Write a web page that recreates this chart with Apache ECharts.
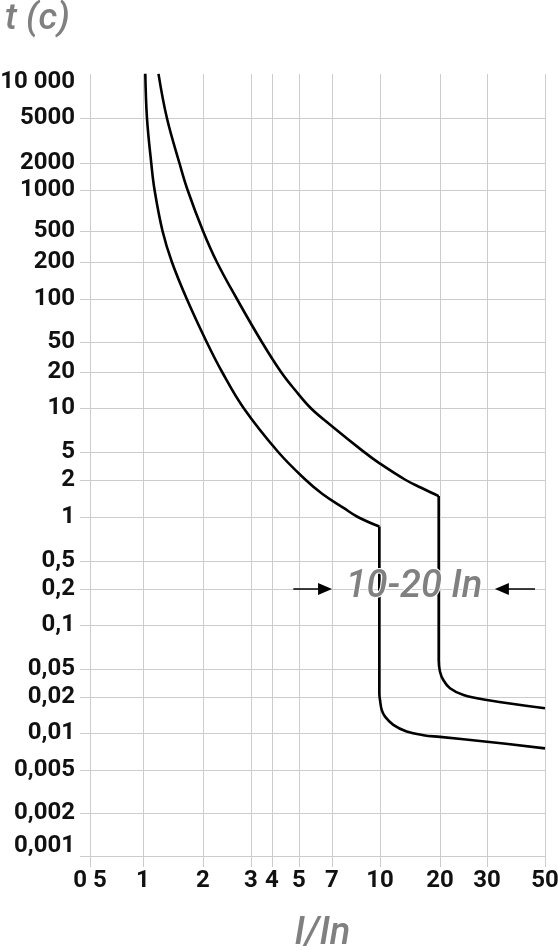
<!DOCTYPE html>
<html><head><meta charset="utf-8">
<script src="https://cdn.jsdelivr.net/npm/echarts@6/dist/echarts.min.js"></script>
<style>html,body{margin:0;padding:0;background:#fff}#c{width:558px;height:951px}</style>
</head><body><div id="c"></div>
<script>
// ---- scale: tick values and their place on the chart's hand-ruled log paper ----
const xTicks = [0.5, 1, 2, 3, 4, 5, 7, 10, 20, 30, 50];
const xTickLabels = ['0 5', '1', '2', '3', '4', '5', '7', '10', '20', '30', '50'];
const xTickPos = [0, 53, 113, 161, 182, 209, 242, 290, 350, 397, 455];

const yTicks = [0.001, 0.002, 0.005, 0.01, 0.02, 0.05, 0.1, 0.2, 0.5, 1, 2, 5, 10, 20, 50, 100, 200, 500, 1000, 2000, 5000, 10000];
const yTickLabels = ['0,001', '0,002', '0,005', '0,01', '0,02', '0,05', '0,1', '0,2', '0,5', '1', '2', '5', '10', '20', '50', '100', '200', '500', '1000', '2000', '5000', '10 000'];
const yTickPos = [10, 43, 86, 123, 159, 187, 231, 267, 295, 339, 376, 404, 448, 484, 514, 557, 594, 625, 666, 693, 738, 774];

// ---- data: upper & lower limit curves (I/In, t in seconds) ----
const lowerI = [1.027, 1.047, 1.10, 1.143, 1.253, 1.396, 1.659, 2.063, 2.35, 2.817, 4.21, 5.36, 6.35, 7.65, 8.48, 9.95];
const lowerT = [11700, 5000, 2000, 1000, 500, 200, 100, 50, 20, 10, 5, 2, 1.54, 1.18, 1, 0.86];
const lowerMagI = [9.95, 9.95, 10.0, 10.2, 10.6, 11.66, 13.6, 16.5, 20, 30, 50];
const lowerMagT = [0.86, 0.0226, 0.0189, 0.0156, 0.0137, 0.0117, 0.0103, 0.0096, 0.0093, 0.0085, 0.0075];

const upperI = [1.196, 1.318, 1.523, 1.674, 2.0, 2.248, 2.664, 3.48, 4.31, 4.84, 5.63, 6.89, 8.83, 9.97, 13.46, 16.2, 19.7];
const upperT = [11700, 5000, 2000, 1000, 500, 200, 100, 50, 20, 14.14, 10, 7.65, 5.05, 3.45, 2, 1.722, 1.48];
const upperMagI = [19.7, 19.7, 20, 20.58, 21.8, 24.5, 30, 50];
const upperMagT = [1.48, 0.0576, 0.0458, 0.0349, 0.0266, 0.0213, 0.0189, 0.0161];

// annotation "10-20 In" (I/In, t)
const bandText = '10-20 In';
const bandAt = [14.8, 0.213];
const arrowLeftI = [4.77, 6.52];
const arrowRightI = [45.8, 34.2];
const arrowT = 0.2;

// piecewise log interpolation along the ruled paper
function paper(v, ticks, pos) {
  const lv = Math.log10(v);
  let i = 0;
  for (i = 0; i < ticks.length - 2; i++) if (lv <= Math.log10(ticks[i + 1])) break;
  const l0 = Math.log10(ticks[i]), l1 = Math.log10(ticks[i + 1]);
  return pos[i] + (lv - l0) / (l1 - l0) * (pos[i + 1] - pos[i]);
}
const px = v => paper(v, xTicks, xTickPos);
const py = v => paper(v, yTicks, yTickPos);
const pts = (I, T) => I.map((v, k) => [px(v), py(T[k])]);

const X_MAX = 455, Y_MAX = 782;
const yGridPos = [0].concat(yTickPos.slice(1, -1));
const gridColor = '#cccccc';
const font = 'Roboto';

const lineSeries = (name, data) => ({
  name, type: 'line', data, showSymbol: false, smooth: 0.4, clip: true,
  lineStyle: { color: '#000', width: 2.6 }, z: 3
});

const chart = echarts.init(document.getElementById('c'), null, { renderer: 'canvas' });
chart.setOption({
  animation: false,
  backgroundColor: '#fff',
  title: {
    text: 't (c)', left: 0, top: -4,
    textStyle: { fontFamily: font, fontSize: 37, fontStyle: 'italic', fontWeight: 500, color: '#808080' }
  },
  grid: { left: 90, right: 13, top: 74, bottom: 95, containLabel: false, outerBoundsMode: 'none' },
  xAxis: {
    type: 'value', min: 0, max: X_MAX,
    name: 'I/In', nameLocation: 'middle', nameGap: 59,
    nameTextStyle: { fontFamily: font, fontSize: 38, fontStyle: 'italic', fontWeight: 500, color: '#808080', padding: [0, 0, 0, 10] },
    axisLine: { show: true, lineStyle: { color: gridColor, width: 1 } },
    axisTick: { show: true, customValues: xTickPos, length: 11, lineStyle: { color: gridColor } },
    splitLine: { show: true, lineStyle: { color: gridColor, width: 1 } },
    axisLabel: {
      customValues: xTickPos, margin: 13,
      fontFamily: font, fontSize: 24, fontWeight: 'bold', color: '#111',
      formatter: v => xTickLabels[xTickPos.indexOf(v)]
    }
  },
  yAxis: {
    type: 'value', min: 0, max: Y_MAX,
    axisLine: { show: false },
    axisTick: { show: true, customValues: yGridPos, length: 10, lineStyle: { color: gridColor } },
    splitLine: { show: true, lineStyle: { color: gridColor, width: 1 } },
    axisLabel: {
      customValues: yTickPos, margin: 15,
      fontFamily: font, fontSize: 24, fontWeight: 'bold', color: '#111',
      formatter: v => yTickLabels[yTickPos.indexOf(v)]
    }
  },
  series: [
    lineSeries('lower', pts(lowerI, lowerT)),
    lineSeries('lowerMag', pts(lowerMagI, lowerMagT)),
    lineSeries('upper', pts(upperI, upperT)),
    Object.assign(lineSeries('upperMag', pts(upperMagI, upperMagT)), {
      markLine: {
        silent: true, symbol: ['none', 'triangle'], symbolSize: [12, 14], z: 6,
        lineStyle: { color: '#000', width: 1.6, type: 'solid' },
        label: { show: false },
        data: [
          [{ coord: [px(arrowLeftI[0]), py(arrowT)] }, { coord: [px(arrowLeftI[1]), py(arrowT)] }],
          [{ coord: [px(arrowRightI[0]), py(arrowT)] }, { coord: [px(arrowRightI[1]), py(arrowT)] }]
        ]
      },
      markPoint: {
        silent: true, symbol: 'circle', symbolSize: 0, z: 7,
        label: {
          show: true, position: 'inside', formatter: bandText,
          fontFamily: font, fontSize: 38, fontStyle: 'italic', fontWeight: 500, color: '#808080',
          textBorderColor: '#fff', textBorderWidth: 2
        },
        data: [{ coord: [px(bandAt[0]), py(bandAt[1])] }]
      }
    })
  ]
});
</script></body></html>
